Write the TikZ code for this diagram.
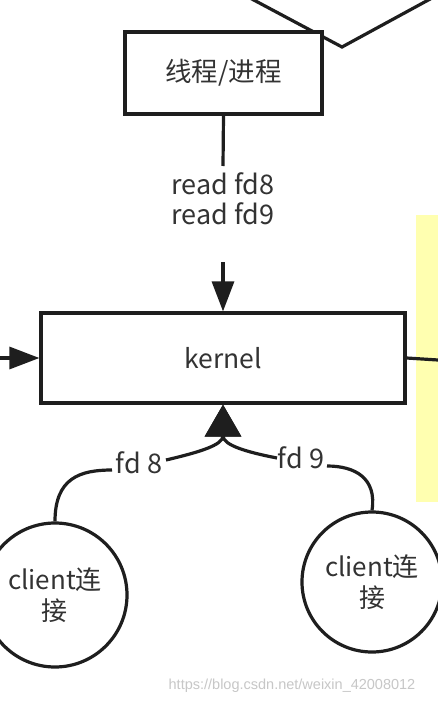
\documentclass[tikz,border=0pt]{standalone}
\usepackage{fontspec}
\setmainfont{Noto Sans CJK SC}
\newfontfamily\wmfont{Liberation Sans}
\usetikzlibrary{arrows.meta}
\definecolor{ink}{HTML}{1E1E1E}
\definecolor{txt}{HTML}{333333}
\definecolor{hl}{HTML}{FFFFB0}
\begin{document}
\begin{tikzpicture}[x=1pt,y=-1pt,
  line/.style={draw=ink,line width=3.2pt},
  boxnode/.style={line,fill=white,rectangle,inner sep=0pt,text=txt,font=\fontsize{26.5}{30}\selectfont},
  cnode/.style={line,fill=white,circle,inner sep=0pt,text=txt,align=center,font=\fontsize{26}{31}\selectfont},
  lbl/.style={inner sep=0pt,text=txt,align=center,font=\fontsize{27}{30}\selectfont},
  tipA/.style={-{Triangle[length=30pt,width=22pt]}},
  tipB/.style={-{Triangle[length=32pt,width=36pt]}}]
\useasboundingbox (0,0) rectangle (438,704);
\fill[white] (0,0) rectangle (438,704);
% yellow band
\fill[hl] (416,215) rectangle (438,502);
% top shape (cut off)
\draw[line] (250,-2) -- (342,47) -- (432,-2);
% nodes
\node[boxnode,minimum width=197pt,minimum height=82pt] (proc) at (223.5,73) {线程/进程};
\node[boxnode,minimum width=364pt,minimum height=90pt] (kernel) at (223,358) {kernel};
\node[lbl] (rd) at (223,199) {read fd8\\read fd9};
\node[cnode,minimum size=144pt] (c1) at (55,595) {client连\\接};
\node[cnode,minimum size=140pt] (c2) at (372,582) {client连\\接};
\node[lbl] (fd8) at (139,463) {fd 8};
\node[lbl] (fd9) at (301,458) {fd 9};
% coordinates
\coordinate (r1) at (223,166);
\coordinate (r2) at (223,262);
\coordinate (lin) at (0,358);
\coordinate (rout) at (438,360);
\coordinate (a1) at (112,470);
\coordinate (a2) at (166,460);
\coordinate (b1) at (277,458);
\coordinate (b2) at (327,466);
% connectors
\draw[line] (proc.south) -- (r1);
\draw[line,tipA] (r2) -- (kernel.north);
\draw[line,tipA] (lin) -- (kernel.west);
\draw[line] (kernel.east) -- (rout);
\draw[line] (c1.north) .. controls (55,478) and (80,470) .. (a1);
\draw[line,tipB] (a2) .. controls (200,452) and (223,445) .. (kernel.south);
\draw[line] (c2.north) .. controls (377,478) and (355,466) .. (b2);
\draw[line,tipB] (b1) .. controls (246,452) and (223,445) .. (kernel.south);
% watermark
\node[inner sep=0pt,text=black!22,font=\wmfont\fontsize{14.5}{16}\selectfont] (wm) at (292,686) {https://blog.csdn.net/weixin\_42008012};
\end{tikzpicture}
\end{document}
